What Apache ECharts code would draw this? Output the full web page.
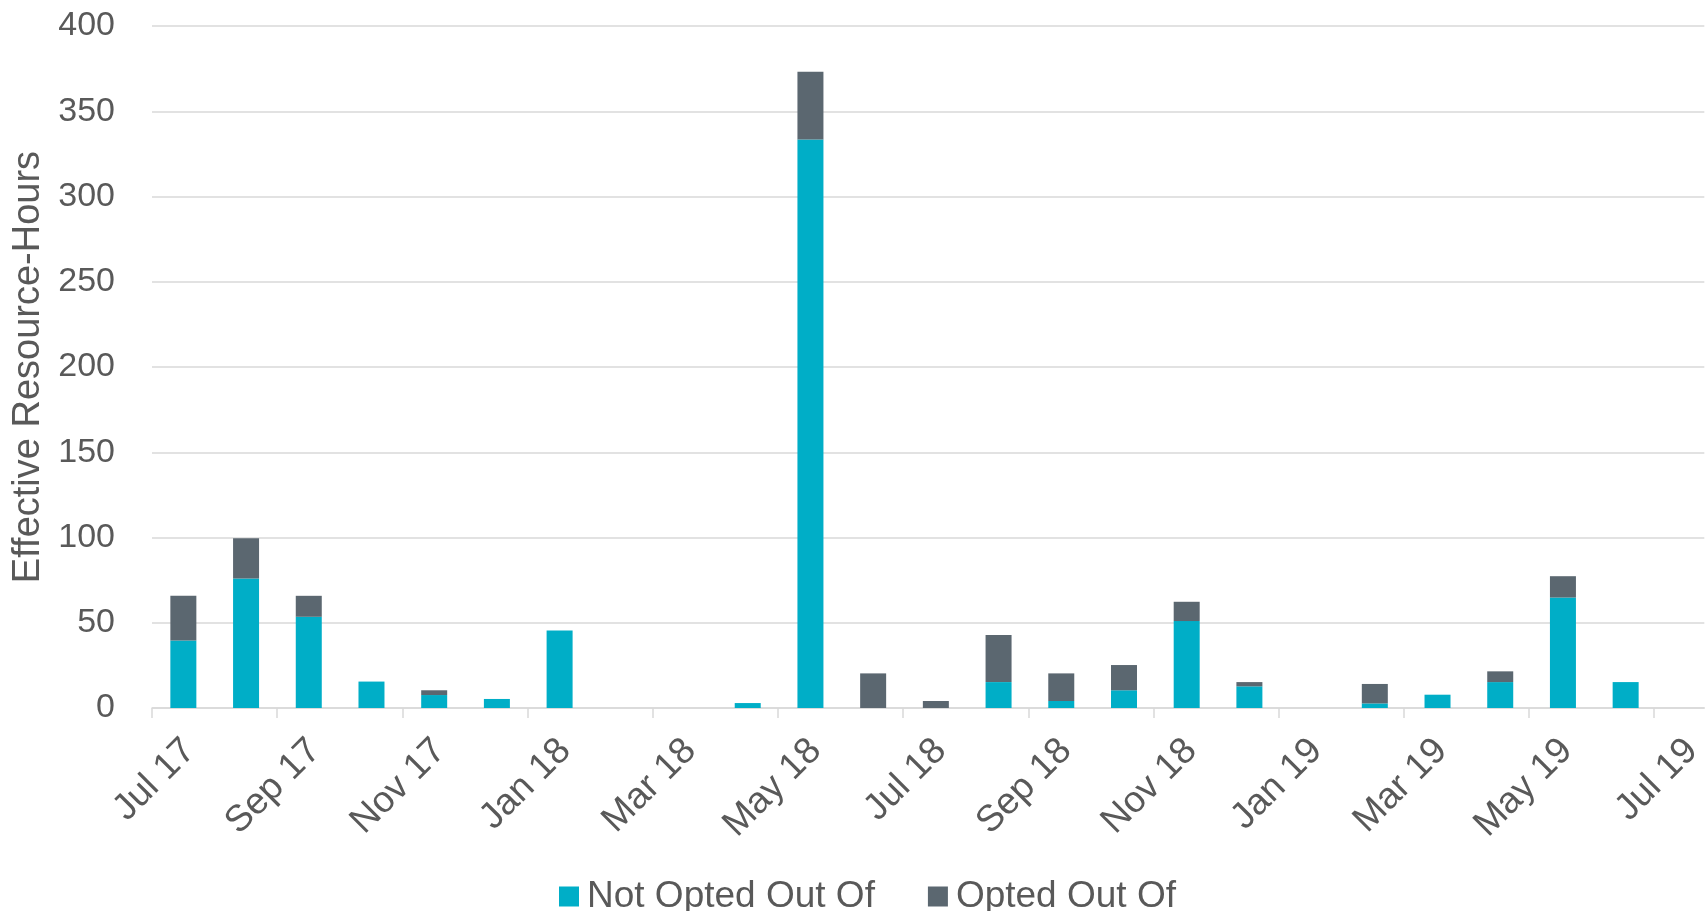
<!DOCTYPE html>
<html>
<head>
<meta charset="utf-8">
<script src="https://cdn.jsdelivr.net/npm/echarts@6/dist/echarts.min.js"></script>
<style>
html,body{margin:0;padding:0;background:#ffffff;}
#chart{width:1707px;height:911px;}
</style>
</head>
<body>
<div id="chart"></div>
<script>
// Monthly categories (bars sit in the middle of each month)
const months = ['Jul 17','Aug 17','Sep 17','Oct 17','Nov 17','Dec 17','Jan 18','Feb 18','Mar 18','Apr 18','May 18','Jun 18',
                'Jul 18','Aug 18','Sep 18','Oct 18','Nov 18','Dec 18','Jan 19','Feb 19','Mar 19','Apr 19','May 19','Jun 19'];
const notOptedOut = [39.6, 76, 53.5, 15.5, 7.6, 5.3, 45.5, 0, 0, 2.9, 333.4, 0,
                     0, 15.2, 4.1, 10.4, 51, 12.7, 0, 2.7, 7.8, 15.2, 64.8, 15.2];
const optedOut    = [26.2, 23.6, 12.3, 0, 2.8, 0, 0, 0, 0, 0, 39.8, 20.3,
                     4.1, 27.6, 16.2, 14.8, 11.3, 2.5, 0, 11.4, 0, 6.3, 12.5, 0];
// Axis tick labels at month boundaries, every two months
const tickLabels = ['Jul 17','Sep 17','Nov 17','Jan 18','Mar 18','May 18','Jul 18','Sep 18','Nov 18','Jan 19','Mar 19','May 19','Jul 19'];
const yTicks = [0, 50, 100, 150, 200, 250, 300, 350, 400];

const TEAL = '#00AEC7';
const GREY = '#5B6770';
const TEXT = '#595959';
const GRID = '#D9D9D9';
const FONT = 'Liberation Sans, Arial, sans-serif';
const LABEL_SHIFT = 0.6;

const tickPositions = tickLabels.map((_, i) => i * 2);
const yMin = yTicks[0], yMax = yTicks[yTicks.length - 1];

const chart = echarts.init(document.getElementById('chart'));
chart.setOption({
  animation: false,
  backgroundColor: '#ffffff',
  textStyle: { fontFamily: FONT },
  grid: [
    { left: 152, right: 0, top: 26, bottom: 203, containLabel: false },   // axes, gridlines
    { left: 152, right: 50, top: 26, bottom: 203, containLabel: false }   // monthly bars (Jul 17 .. Jul 19)
  ],
  legend: {
    data: ['Not Opted Out Of', 'Opted Out Of'],
    left: 554,
    top: 873,
    icon: 'rect',
    itemWidth: 20,
    itemHeight: 20,
    itemGap: 53,
    textStyle: { fontSize: 37, color: TEXT, fontFamily: FONT, padding: [0, 0, 0, 3] }
  },
  xAxis: [
    {
      type: 'value',
      gridIndex: 0,
      min: 0,
      max: 24.8,
      interval: 2,
      splitLine: { show: false },
      axisLine: { show: true, lineStyle: { color: GRID, width: 1.5 } },
      axisTick: { show: true, length: 10, lineStyle: { color: GRID, width: 1.5 }, customValues: tickPositions },
      axisLabel: {
        customValues: tickPositions.map(v => v + LABEL_SHIFT),
        rotate: 45,
        margin: 37,
        fontSize: 37,
        color: TEXT,
        formatter: function (value) {
          const idx = Math.round((value - LABEL_SHIFT) / 2);
          return tickLabels[idx] || '';
        }
      }
    },
    {
      type: 'category',
      gridIndex: 1,
      data: months,
      boundaryGap: true,
      axisLine: { show: false },
      axisTick: { show: false },
      axisLabel: { show: false },
      splitLine: { show: false }
    }
  ],
  yAxis: [
    {
      type: 'value',
      gridIndex: 0,
      min: yMin,
      max: yMax,
      interval: 50,
      name: 'Effective Resource-Hours',
      nameLocation: 'middle',
      nameRotate: 90,
      nameGap: 98,
      nameTextStyle: { fontSize: 38, color: TEXT },
      axisLine: { show: false },
      axisTick: { show: false },
      splitLine: { show: true, lineStyle: { color: GRID, width: 1.5 } },
      axisLabel: { fontSize: 34, color: TEXT, margin: 37 }
    },
    {
      type: 'value',
      gridIndex: 1,
      min: yMin,
      max: yMax,
      interval: 50,
      axisLine: { show: false },
      axisTick: { show: false },
      axisLabel: { show: false },
      splitLine: { show: false }
    }
  ],
  series: [
    {
      name: 'Not Opted Out Of',
      type: 'bar',
      xAxisIndex: 1,
      yAxisIndex: 1,
      stack: 'total',
      barWidth: 26,
      itemStyle: { color: TEAL },
      data: notOptedOut
    },
    {
      name: 'Opted Out Of',
      type: 'bar',
      xAxisIndex: 1,
      yAxisIndex: 1,
      stack: 'total',
      barWidth: 26,
      itemStyle: { color: GREY },
      data: optedOut
    }
  ]
});
</script>
</body>
</html>
